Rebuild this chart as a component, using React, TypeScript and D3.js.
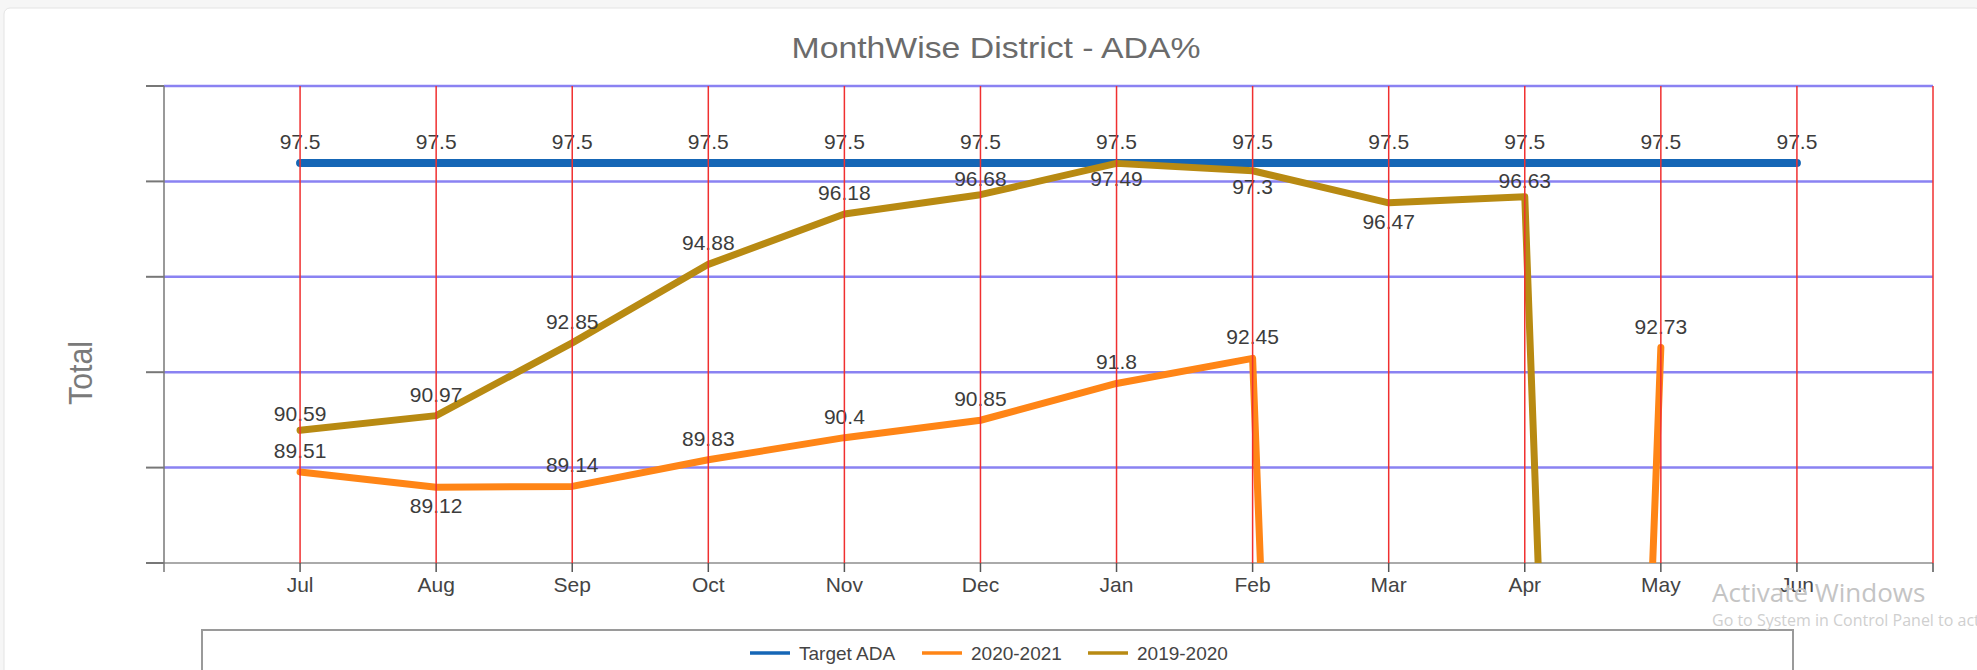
import React, { useRef, useEffect } from 'react'
import * as d3 from 'd3'

// months on the x axis (school year)
const months = ['Jul', 'Aug', 'Sep', 'Oct', 'Nov', 'Dec', 'Jan', 'Feb', 'Mar', 'Apr', 'May', 'Jun']

// series values (0 = dropped to nothing, null = no point)
const targetADA = [97.5, 97.5, 97.5, 97.5, 97.5, 97.5, 97.5, 97.5, 97.5, 97.5, 97.5, 97.5]
const year2021 = [89.51, 89.12, 89.14, 89.83, 90.4, 90.85, 91.8, 92.45, 0, 0, 92.73, null]
const year1920 = [90.59, 90.97, 92.85, 94.88, 96.18, 96.68, 97.49, 97.3, 96.47, 96.63, 0, null]

// where each data label sits relative to its point
const side2021 = ['up', 'down', 'up', 'up', 'up', 'up', 'up', 'up', '', '', 'up', '']
const side1920 = ['upNear', 'up', 'up', 'up', 'up', 'upNear', 'downNear', 'downNear', 'down', 'upNear', '', '']

const seriesNames = ['Target ADA', '2020-2021', '2019-2020']
const seriesColors = ['#1566b6', '#ff8516', '#b88a12']

const App = () => {
  const svgRef = useRef<SVGSVGElement>(null)

  useEffect(() => {
    const W = 1977
    const H = 670
    const left = 164, right = 1933, top = 86, bottom = 563
    const svg = d3.select(svgRef.current)
    svg.selectAll('*').remove()
    svg.attr('width', W).attr('height', H)

    // page + card
    svg.append('rect').attr('width', W).attr('height', H).attr('fill', '#f6f6f6')
    svg.append('rect').attr('x', 4).attr('y', 8).attr('width', W).attr('height', H)
      .attr('rx', 6).attr('fill', '#fff').attr('stroke', '#e4e4e4')

    const x = d3.scaleLinear().domain([0, months.length + 1]).range([left, right])
    const yLo = 87.16, yHi = 99.49
    const y = d3.scaleLinear().domain([yLo, yHi]).range([bottom, top])
    const gridVals = d3.range(6).map(i => yLo + i * (yHi - yLo) / 5)

    // title
    svg.append('text')
      .attr('x', 996).attr('y', 58)
      .attr('text-anchor', 'middle')
      .attr('font-family', 'Liberation Sans, Arial, sans-serif')
      .attr('font-size', 30)
      .attr('textLength', 409).attr('lengthAdjust', 'spacingAndGlyphs')
      .attr('fill', '#6b6b6b')
      .text('MonthWise District - ADA%')

    // y title
    svg.append('text')
      .attr('transform', 'translate(92,373) rotate(-90)')
      .attr('text-anchor', 'middle')
      .attr('font-family', 'Liberation Sans, Arial, sans-serif')
      .attr('font-size', 34)
      .attr('textLength', 64).attr('lengthAdjust', 'spacingAndGlyphs')
      .attr('fill', '#7a7a7a')
      .text('Total')

    // horizontal grid + y ticks
    svg.append('g').selectAll('line')
      .data(gridVals.slice(1))
      .join('line')
        .attr('x1', left).attr('x2', right)
        .attr('y1', d => y(d)).attr('y2', d => y(d))
        .attr('stroke', '#8a82f2').attr('stroke-width', 2.5)
    svg.append('g').selectAll('line')
      .data(gridVals)
      .join('line')
        .attr('x1', left - 18).attr('x2', left)
        .attr('y1', d => y(d)).attr('y2', d => y(d))
        .attr('stroke', '#777').attr('stroke-width', 2)

    // axes lines
    svg.append('line').attr('x1', left).attr('x2', right).attr('y1', bottom).attr('y2', bottom)
      .attr('stroke', '#aaa').attr('stroke-width', 2)
    svg.append('line').attr('x1', left).attr('x2', left).attr('y1', top).attr('y2', bottom + 9)
      .attr('stroke', '#777').attr('stroke-width', 1.5)

    // x ticks + labels
    const tickIdx = d3.range(1, months.length + 2)
    svg.append('g').selectAll('line')
      .data(tickIdx)
      .join('line')
        .attr('x1', d => x(d)).attr('x2', d => x(d))
        .attr('y1', bottom).attr('y2', bottom + 9)
        .attr('stroke', '#555').attr('stroke-width', 1.5)
    svg.append('g').selectAll('text')
      .data(months)
      .join('text')
        .attr('x', (d, i) => x(i + 1)).attr('y', 592)
        .attr('text-anchor', 'middle')
        .attr('font-family', 'Liberation Sans, Arial, sans-serif')
        .attr('font-size', 21)
        .attr('fill', '#444')
        .text(d => d)

    // clip for lines that plunge to 0
    svg.append('clipPath').attr('id', 'plotClip')
      .append('rect').attr('x', left).attr('y', 0).attr('width', right - left).attr('height', bottom)

    const line = d3.line<number | null>()
      .defined(d => d != null)
      .x((d, i) => x(i + 1))
      .y(d => y(d as number))

    const allSeries = [targetADA, year2021, year1920]
    const widths = [8, 7, 7]
    svg.append('g').attr('clip-path', 'url(#plotClip)')
      .selectAll('path')
      .data(allSeries)
      .join('path')
        .attr('d', d => line(d))
        .attr('fill', 'none')
        .attr('stroke', (d, i) => seriesColors[i])
        .attr('stroke-width', (d, i) => widths[i])
        .attr('stroke-linecap', 'round')
        .attr('stroke-linejoin', 'round')

    // data labels
    const offs: Record<string, number> = { up: -14, upNear: -9, down: 26, downNear: 23 }
    const sides = [targetADA.map(() => 'up'), side2021, side1920]
    allSeries.forEach((s, si) => {
      svg.append('g').selectAll('text')
        .data(s.map((v, i) => ({ v, i, side: sides[si][i] })).filter(p => p.v != null && (p.v as number) > yLo))
        .join('text')
          .attr('x', p => x(p.i + 1)).attr('y', p => y(p.v as number) + offs[p.side])
          .attr('text-anchor', 'middle')
          .attr('font-family', 'Liberation Sans, Arial, sans-serif')
          .attr('font-size', 21)
          .attr('fill', '#3c3c3c')
          .text(p => String(p.v))
    })

    // red vertical grid drawn on top
    svg.append('g').selectAll('line')
      .data(tickIdx)
      .join('line')
        .attr('x1', d => x(d)).attr('x2', d => x(d))
        .attr('y1', top).attr('y2', bottom)
        .attr('stroke', '#f03030').attr('stroke-width', 1.5)

    // legend
    svg.append('rect').attr('x', 202).attr('y', 630).attr('width', 1591).attr('height', 80)
      .attr('fill', '#fff').attr('stroke', '#9a9a9a').attr('stroke-width', 2)
    const swX = [750, 922, 1088]
    const lg = svg.append('g').selectAll('g').data(seriesNames).join('g')
    lg.append('line')
      .attr('x1', (d, i) => swX[i]).attr('x2', (d, i) => swX[i] + 40)
      .attr('y1', 653).attr('y2', 653)
      .attr('stroke', (d, i) => seriesColors[i]).attr('stroke-width', 3.5)
    lg.append('text')
      .attr('x', (d, i) => swX[i] + 49).attr('y', 660)
      .attr('font-family', 'Liberation Sans, Arial, sans-serif')
      .attr('font-size', 19)
      .attr('fill', '#444')
      .text(d => d)

    // OS watermark in screenshot
    svg.append('text').attr('x', 1712).attr('y', 602)
      .attr('font-family', 'Open Sans, sans-serif').attr('font-size', 26)
      .attr('fill', '#c4c4c4').text('Activate Windows')
    svg.append('text').attr('x', 1712).attr('y', 626)
      .attr('font-family', 'Open Sans, sans-serif').attr('font-size', 16)
      .attr('fill', '#cfcfcf').text('Go to System in Control Panel to activate Windows.')
  }, [])

  return (
    <div style={{ position: 'absolute', left: 0, top: 0 }}>
      <svg ref={svgRef} style={{ display: 'block' }}></svg>
    </div>
  )
}

export default App
